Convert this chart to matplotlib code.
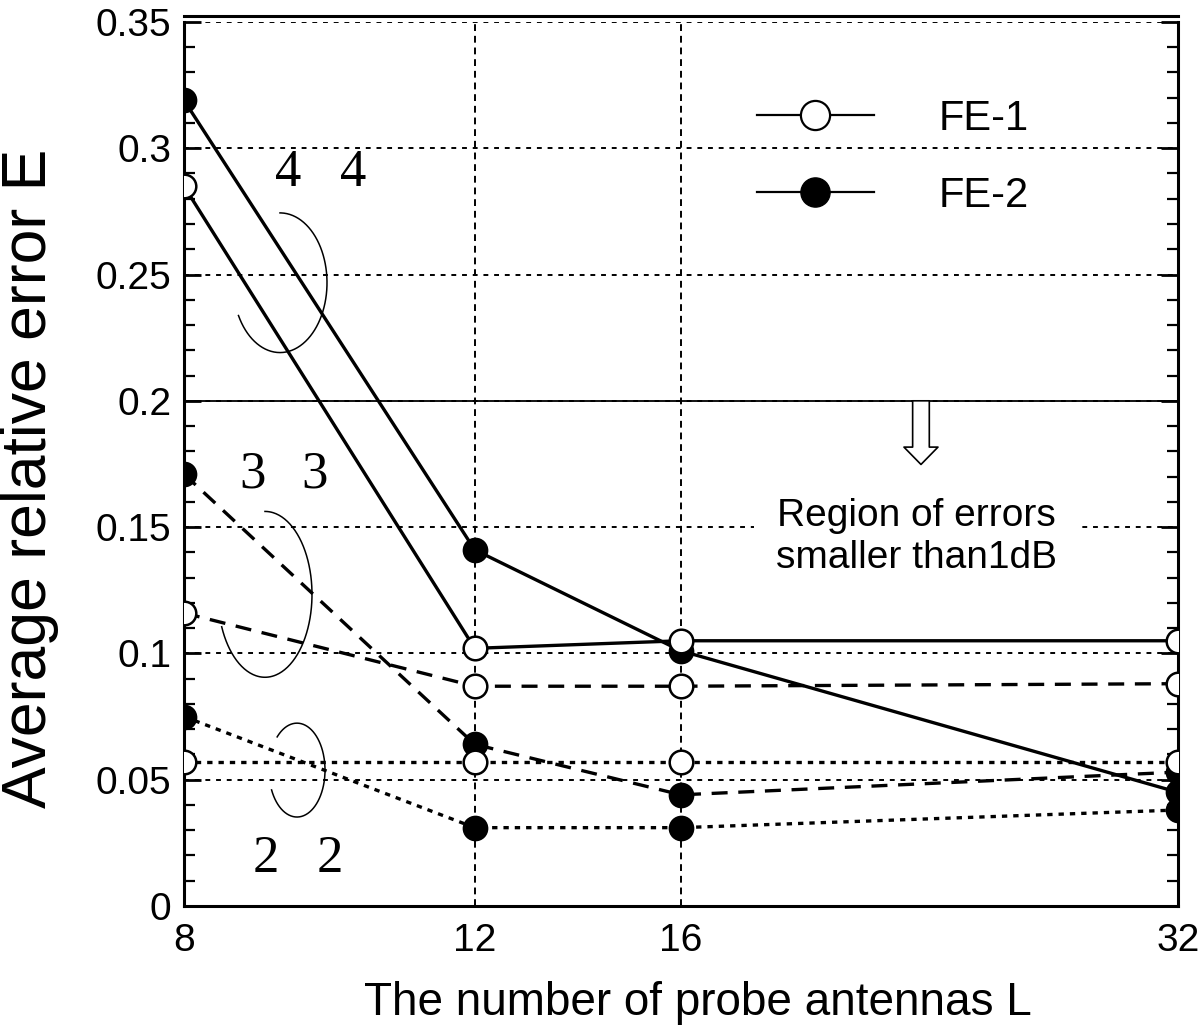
"""
Average relative error versus number of probe antennas (FE-1 / FE-2).
"""

import matplotlib

matplotlib.use("Agg")

import matplotlib.pyplot as plt
import matplotlib.transforms as mtransforms
import numpy as np
from matplotlib.lines import Line2D
from matplotlib.ticker import FixedLocator, MultipleLocator, NullLocator

plt.rcParams["font.family"] = ["Liberation Sans", "DejaVu Sans"]

# ---- data ----
antennas = [8, 12, 16, 32]
antenna_labels = ["8", "12", "16", "32"]

fe1_4x4 = [0.285, 0.102, 0.105, 0.105]
fe1_3x3 = [0.116, 0.087, 0.087, 0.088]
fe1_2x2 = [0.057, 0.057, 0.057, 0.057]

fe2_4x4 = [0.319, 0.141, 0.101, 0.045]
fe2_3x3 = [0.171, 0.064, 0.044, 0.053]
fe2_2x2 = [0.075, 0.031, 0.031, 0.038]

threshold = 0.2
y_ticks = [0, 0.05, 0.1, 0.15, 0.2, 0.25, 0.3, 0.35]

series_styles = {
    "solid": "-",
    "dashed": (0, (4.8, 3.2)),
    "dotted": (0, (1.6, 1.8)),
}

fig = plt.figure(figsize=(12, 10.26), dpi=100)
ax = fig.add_axes([0.1533, 0.1170, 0.8284, 0.8616])

ax.set_xscale("log", base=2)
ax.set_xlim(8, 32)
ax.set_ylim(0, 0.35)

# grid
grid_style = dict(color="black", linewidth=1.4, linestyle=(0, (2.5, 3)), zorder=1)
for yv in y_ticks[1:]:
    ax.axhline(yv, **grid_style)
for xv in antennas[1:-1]:
    ax.axvline(xv, color="black", linewidth=1.4, linestyle=(0, (3.5, 2.5)), zorder=1)
ax.axhline(threshold, color="black", linewidth=1.3, zorder=1.5)

marker_size = 17
line_width = 2.4

fe2_series = [(fe2_4x4, "solid"), (fe2_3x3, "dashed"), (fe2_2x2, "dotted")]
fe1_series = [(fe1_4x4, "solid"), (fe1_3x3, "dashed"), (fe1_2x2, "dotted")]

for values, style in fe2_series:
    ax.plot(
        antennas, values,
        color="black", linewidth=line_width, linestyle=series_styles[style],
        marker="o", markersize=marker_size, markerfacecolor="black",
        markeredgecolor="black", markeredgewidth=1.5, zorder=3,
    )

for values, style in fe1_series:
    ax.plot(
        antennas, values,
        color="black", linewidth=line_width, linestyle=series_styles[style],
        marker="o", markersize=marker_size, markerfacecolor="white",
        markeredgecolor="black", markeredgewidth=1.8, zorder=4,
    )


# grouping arcs and their labels
def draw_arc(cx, cy, rx, ry, t_start, t_end):
    t = np.radians(np.linspace(t_start, t_end, 200))
    ax.plot(cx + rx * np.cos(t), cy + ry * np.sin(t),
            color="black", linewidth=1.1, transform=ax.transAxes, zorder=5)


draw_arc(0.0966, 0.705, 0.0473, 0.079, 208, 450)
draw_arc(0.0815, 0.3525, 0.0473, 0.0938, 203, 450)
draw_arc(0.1137, 0.1537, 0.0282, 0.0531, 205, 495)

serif = dict(family=["Liberation Serif", "DejaVu Serif"], fontsize=38,
             ha="center", va="center", transform=ax.transAxes, zorder=6)
for label, xs, py in [("4", (288, 353), 172), ("3", (253, 315), 474), ("2", (266, 330), 859)]:
    for px in xs:
        ax.text((px - 184) / 994, (906 - py) / 885, label, **serif)

# threshold annotation
ax.annotate(
    "", xy=(0.7414, 0.1748), xytext=(0.7414, threshold),
    xycoords=("axes fraction", "data"), textcoords=("axes fraction", "data"),
    arrowprops=dict(
        arrowstyle="simple,head_length=1.25,head_width=2.45,tail_width=1.2",
        facecolor="white", edgecolor="black", linewidth=1.2,
        mutation_scale=10, shrinkA=0, shrinkB=0,
    ),
    zorder=6,
)
ax.text(
    0.7364, 0.1460, "Region of errors\nsmaller than1dB",
    transform=mtransforms.blended_transform_factory(ax.transAxes, ax.transData),
    fontsize=28, ha="center", va="center",
    multialignment="center", linespacing=1.2,
    bbox=dict(boxstyle="square,pad=0.55", facecolor="white", edgecolor="none"),
    zorder=6,
)

# legend
handles = [
    Line2D([], [], color="black", linewidth=1.6, marker="o", markersize=21,
           markerfacecolor="white", markeredgecolor="black", markeredgewidth=1.6),
    Line2D([], [], color="black", linewidth=1.6, marker="o", markersize=21,
           markerfacecolor="black", markeredgecolor="black"),
]
ax.legend(
    handles, ["FE-1", "FE-2"], loc="upper left", bbox_to_anchor=(0.5765, 0.913),
    frameon=False, fontsize=30, handlelength=2.8, handletextpad=1.55,
    labelspacing=0.89, borderpad=0, borderaxespad=0, numpoints=1,
)

# axes, ticks, labels
for side in ["left", "right", "bottom", "top"]:
    ax.spines[side].set_linewidth(2.2)
ax.spines["top"].set_position(("outward", 4))

ax.xaxis.set_major_locator(FixedLocator(antennas))
ax.xaxis.set_minor_locator(NullLocator())
ax.set_xticklabels(antenna_labels)
ax.tick_params(axis="x", which="both", length=0, pad=12, labelsize=28)

ax.yaxis.set_major_locator(FixedLocator(y_ticks))
ax.yaxis.set_minor_locator(MultipleLocator(0.01))
ax.set_yticklabels([f"{v:g}" for v in y_ticks])
ax.tick_params(axis="y", which="major", direction="in", length=12, width=2,
               left=True, right=True, pad=9, labelsize=28)
ax.tick_params(axis="y", which="minor", direction="in", length=8, width=1.6,
               left=True, right=True)

ax.set_xlabel("The number of probe antennas L", fontsize=33)
ax.xaxis.set_label_coords(0.517, -0.085)
ax.set_ylabel("Average relative error E", fontsize=45)
ax.yaxis.set_label_coords(-0.126, 0.484)

fig.savefig("out.png", dpi=100)
